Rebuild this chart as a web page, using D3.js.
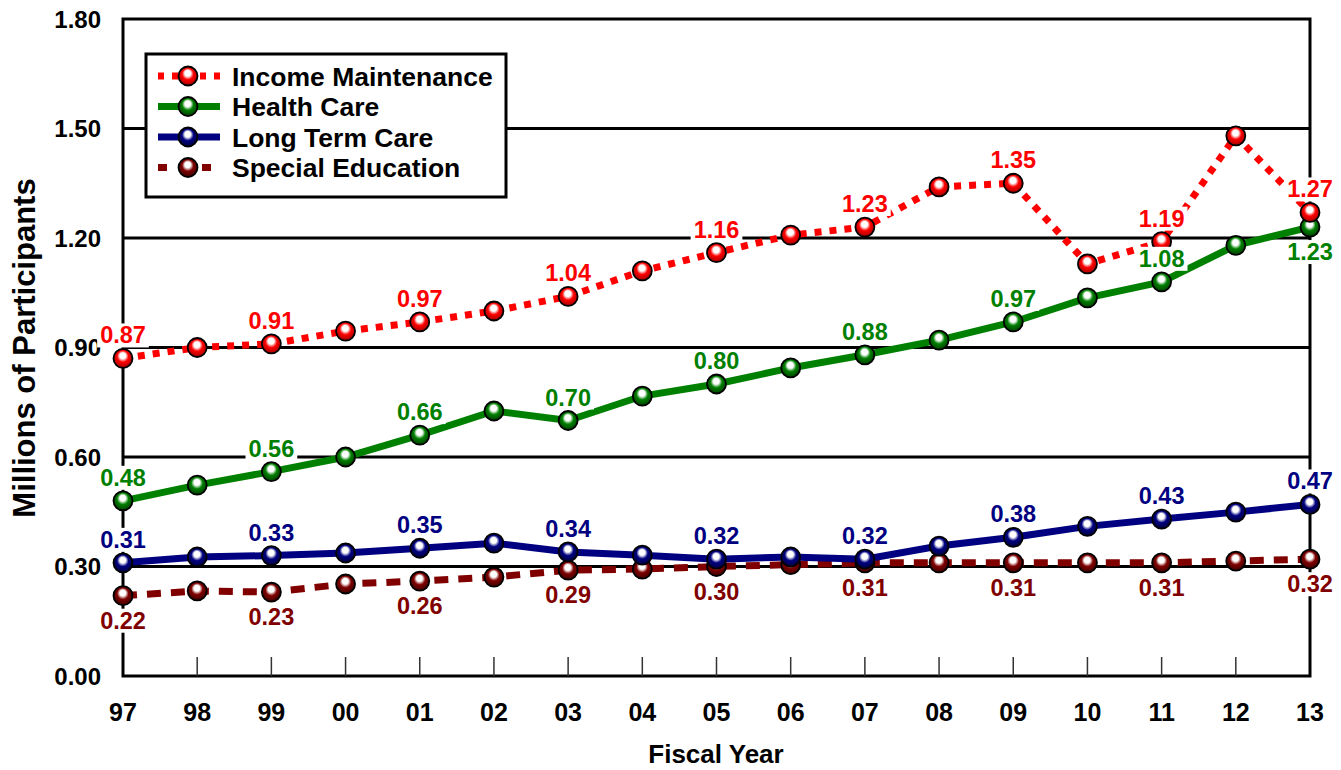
<!DOCTYPE html>
<html>
<head>
<meta charset="utf-8">
<style>
  body { margin: 0; background: #fff; }
  svg text { font-family: "Liberation Sans", Arial, sans-serif; font-weight: bold; }
</style>
</head>
<body>
<svg id="chart"></svg>
<script src="https://cdn.jsdelivr.net/npm/d3@7"></script>
<script>

  // fiscal years
  const years = ["97", "98", "99", "00", "01", "02", "03", "04", "05", "06", "07", "08", "09", "10", "11", "12", "13"]

  // millions of participants
  const incomeMaintenance = [0.87, 0.90, 0.91, 0.945, 0.97, 1.00, 1.04, 1.11, 1.16, 1.208, 1.23, 1.34, 1.35, 1.129, 1.19, 1.48, 1.27]
  const healthCare        = [0.48, 0.523, 0.56, 0.60, 0.66, 0.726, 0.70, 0.767, 0.80, 0.844, 0.88, 0.92, 0.97, 1.036, 1.08, 1.18, 1.23]
  const longTermCare      = [0.31, 0.326, 0.33, 0.337, 0.35, 0.364, 0.34, 0.331, 0.32, 0.326, 0.32, 0.356, 0.38, 0.41, 0.43, 0.449, 0.47]
  const specialEducation  = [0.22, 0.233, 0.23, 0.252, 0.26, 0.271, 0.29, 0.293, 0.30, 0.305, 0.31, 0.31, 0.31, 0.31, 0.31, 0.315, 0.32]

  const yTicks = [0, 0.3, 0.6, 0.9, 1.2, 1.5, 1.8]

  // series, in legend order
  const series = [
    { name: "Income Maintenance", values: incomeMaintenance, color: "#ff0000", dark: "#a00000", dash: "7,8",   labelPos: "above" },
    { name: "Health Care",        values: healthCare,        color: "#008000", dark: "#004000", dash: null,    labelPos: "above" },
    { name: "Long Term Care",     values: longTermCare,      color: "#000080", dark: "#000040", dash: null,    labelPos: "above" },
    { name: "Special Education",  values: specialEducation,  color: "#800000", dark: "#400000", dash: "14,10", labelPos: "below" }
  ]

  const width = 1341, height = 770
  const margin = {top: 19, right: 31, bottom: 94, left: 123}
  const innerW = width - margin.left - margin.right,
        innerH = height - margin.top - margin.bottom

  const svg = d3.select("#chart")
      .attr("width", width)
      .attr("height", height)

  // gradients for the shiny markers
  const defs = svg.append("defs")
  series.forEach((s, i) => {
    const g = defs.append("radialGradient")
      .attr("id", "ball" + i)
      .attr("cx", "50%").attr("cy", "45%").attr("r", "55%")
      .attr("fx", "48%").attr("fy", "32%")
    g.append("stop").attr("offset", "0%").attr("stop-color", "#fff")
    g.append("stop").attr("offset", "28%").attr("stop-color", "#fff")
    g.append("stop").attr("offset", "55%").attr("stop-color", s.color)
    g.append("stop").attr("offset", "100%").attr("stop-color", s.dark)
  })

  const x = d3.scalePoint()
      .domain(years)
      .range([0, innerW])

  const y = d3.scaleLinear()
      .domain([0, 1.8])
      .range([innerH, 0])

  const plot = svg.append("g")
      .attr("transform", `translate(${margin.left}, ${margin.top})`)

  // gridlines
  plot.append("g")
    .selectAll("line")
    .data(yTicks.slice(1, -1))
    .join("line")
      .attr("x1", 0).attr("x2", innerW)
      .attr("y1", d => y(d)).attr("y2", d => y(d))
      .attr("stroke", "#000")
      .attr("stroke-width", 3)

  // frame
  plot.append("rect")
    .attr("width", innerW)
    .attr("height", innerH)
    .attr("fill", "none")
    .attr("stroke", "#000")
    .attr("stroke-width", 3)

  // x ticks (inside, at the bottom)
  plot.append("g")
    .selectAll("line")
    .data(years.slice(1, -1))
    .join("line")
      .attr("x1", d => x(d)).attr("x2", d => x(d))
      .attr("y1", innerH).attr("y2", innerH - 19)
      .attr("stroke", "#333")
      .attr("stroke-width", 1.5)

  // x axis labels
  plot.append("g")
    .selectAll("text")
    .data(years)
    .join("text")
      .attr("x", d => x(d))
      .attr("y", innerH + 45)
      .attr("text-anchor", "middle")
      .style("font-size", "25px")
      .text(d => d)

  // y axis labels
  plot.append("g")
    .selectAll("text")
    .data(yTicks)
    .join("text")
      .attr("x", -22)
      .attr("y", d => y(d))
      .attr("dy", "0.36em")
      .attr("text-anchor", "end")
      .style("font-size", "24px")
      .text(d3.format(".2f"))

  // axis titles
  svg.append("text")
    .attr("x", 716)
    .attr("y", 763)
    .attr("text-anchor", "middle")
    .style("font-size", "26px")
    .text("Fiscal Year")

  svg.append("text")
    .attr("transform", "translate(35, 348) rotate(-90)")
    .attr("text-anchor", "middle")
    .style("font-size", "31px")
    .text("Millions of Participants")

  const line = d3.line()
      .x((d, i) => x(years[i]))
      .y(d => y(d))

  // draw from the bottom series up so that the upper ones sit on top
  series.slice().reverse().forEach(s => {
    const i = series.indexOf(s)
    const g = plot.append("g")
    g.append("path")
      .attr("d", line(s.values))
      .attr("fill", "none")
      .attr("stroke", s.color)
      .attr("stroke-width", 7)
      .attr("stroke-dasharray", s.dash)
    g.selectAll("circle")
      .data(s.values)
      .join("circle")
        .attr("cx", (d, k) => x(years[k]))
        .attr("cy", d => y(d))
        .attr("r", 9.5)
        .attr("fill", `url(#ball${i})`)
        .attr("stroke", "#000")
        .attr("stroke-width", 1.8)
  })

  // value labels on every other year, with a white box behind
  const labels = plot.append("g")
  series.forEach(s => {
    s.values.forEach((v, k) => {
      if (k % 2 !== 0) return
      let pos = s.labelPos
      if (s.name === "Health Care" && k === years.length - 1) pos = "below"
      const ty = pos === "above" ? y(v) - 15 : y(v) + 33
      const t = labels.append("text")
        .attr("x", x(years[k]))
        .attr("y", ty)
        .attr("text-anchor", "middle")
        .attr("fill", s.color)
        .style("font-size", "23.5px")
        .text(d3.format(".2f")(v))
      const bb = t.node().getBBox()
      labels.insert("rect", () => t.node())
        .attr("x", bb.x - 3).attr("y", bb.y + 1)
        .attr("width", bb.width + 6).attr("height", bb.height - 2)
        .attr("fill", "#fff")
    })
  })

  // legend
  const legend = svg.append("g")
      .attr("transform", "translate(146, 54)")
  legend.append("rect")
    .attr("width", 360)
    .attr("height", 143)
    .attr("fill", "#fff")
    .attr("stroke", "#000")
    .attr("stroke-width", 3)

  const rows = legend.selectAll("g.row")
    .data(series)
    .join("g")
      .attr("class", "row")
      .attr("transform", (d, i) => `translate(0, ${22 + i * 30.5})`)

  rows.append("line")
    .attr("x1", 12).attr("x2", 74)
    .attr("stroke", d => d.color)
    .attr("stroke-width", 7)
    .attr("stroke-dasharray", d => d.dash ? (d.dash === "7,8" ? "6,8" : "9,13") : null)
  rows.append("circle")
    .attr("cx", 42)
    .attr("r", 9.5)
    .attr("fill", (d, i) => `url(#ball${i})`)
    .attr("stroke", "#000")
    .attr("stroke-width", 1.8)
  rows.append("text")
    .attr("x", 86)
    .attr("dy", "0.36em")
    .style("font-size", "26.5px")
    .text(d => d.name)

</script>
</body>
</html>
